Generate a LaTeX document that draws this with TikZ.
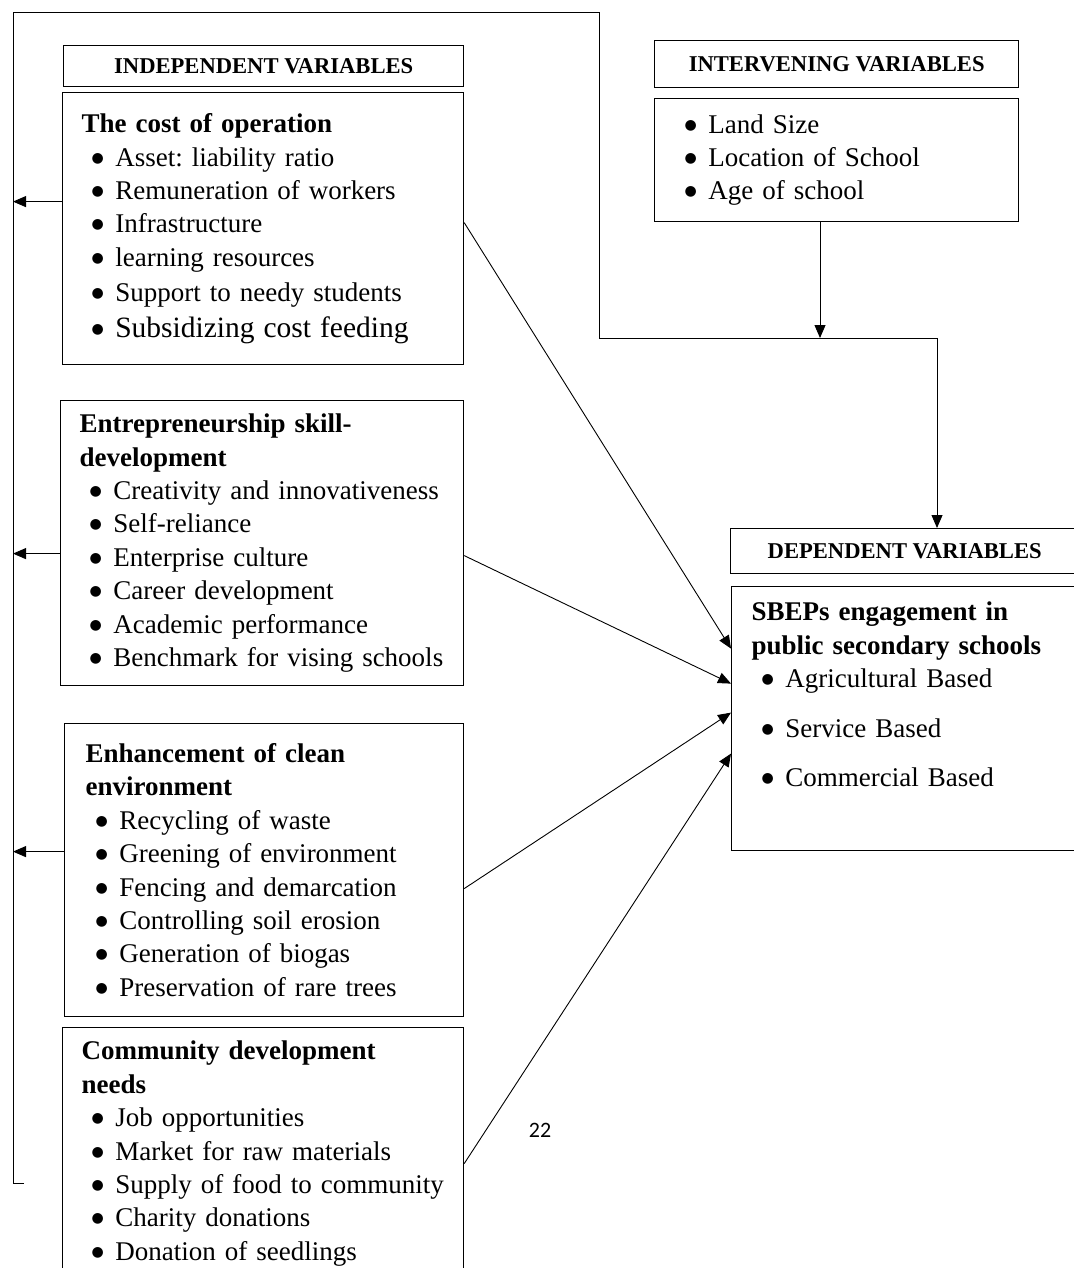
\documentclass[tikz,border=0pt]{standalone}
\usepackage{fontspec}
\setmainfont{Liberation Serif}
\newfontfamily\pagenumfont{Carlito}
\newfontfamily\bulletfont{DejaVu Sans}
\usetikzlibrary{arrows.meta}
\frenchspacing

% one bulleted line inside a box
\newcommand{\itm}[1]{\mbox{\hspace*{10pt}\raisebox{4pt}{\bulletfont\fontsize{14}{14}\selectfont ●}\hspace{11.5pt}#1}}

\begin{document}
\begin{tikzpicture}[
  x=1pt, y=-1pt, % one unit per pixel, y pointing down
  header/.style={
    draw, line width=1.4pt,
    anchor=north west,
    inner sep=0pt,
    font=\fontsize{22.6}{26}\selectfont\bfseries % title bars
  },
  varbox/.style={
    draw, line width=1.2pt,
    anchor=north west,
    inner xsep=19pt, inner ysep=0pt,
    align=left,
    font=\fontsize{27}{33.4}\selectfont % boxes with the variables
  },
  link/.style={line width=0.9pt},
  arrow/.style={link, -{Triangle[length=13pt,width=11pt]}} % connectors
]
\useasboundingbox (0,0) rectangle (1073,1268);

% independent variables
\node[header, minimum width=400pt, minimum height=41pt] (hindep) at (63,45) {INDEPENDENT VARIABLES};

\node[varbox, text width=363pt, minimum width=401pt, minimum height=272pt] (cost) at (62,92) {%
  \textbf{The cost of operation}\\
  \itm{Asset: liability ratio}\\
  \itm{Remuneration of workers}\\
  \itm{Infrastructure}\\
  \itm{learning resources}\\[2pt]
  \itm{Support to needy students}\\[2pt]
  {\fontsize{29.5}{33.4}\selectfont\itm{Subsidizing cost feeding}}};

\node[varbox, text width=365pt, minimum width=403pt, minimum height=285pt] (entre) at (60,400) {%
  \textbf{Entrepreneurship skill-}\\
  \textbf{development}\\
  \itm{Creativity and innovativeness}\\
  \itm{Self-reliance}\\
  \itm{Enterprise culture}\\
  \itm{Career development}\\
  \itm{Academic performance}\\
  \itm{Benchmark for vising schools}};

\node[varbox, inner xsep=21pt, text width=357pt, minimum width=399pt, minimum height=293pt] (enhance) at (64,723) {%
  \textbf{Enhancement of clean}\\
  \textbf{environment}\\
  \itm{Recycling of waste}\\
  \itm{Greening of environment}\\
  \itm{Fencing and demarcation}\\
  \itm{Controlling soil erosion}\\
  \itm{Generation of biogas}\\
  \itm{Preservation of rare trees}};

\node[varbox, text width=363pt, minimum width=401pt, minimum height=252pt] (community) at (62,1027) {%
  \textbf{Community development}\\
  \textbf{needs}\\
  \itm{Job opportunities}\\
  \itm{Market for raw materials}\\
  \itm{Supply of food to community}\\
  \itm{Charity donations}\\
  \itm{Donation of seedlings}};

% intervening variables
\node[header, minimum width=364pt, minimum height=47pt] (hinterv) at (654,40) {INTERVENING VARIABLES};

\node[varbox, inner xsep=20pt, text width=324pt, minimum width=364pt, minimum height=123pt] (interv) at (654,98) {%
  \itm{Land Size}\\
  \itm{Location of School}\\
  \itm{Age of school}};

% dependent variables
\node[header, minimum width=348pt, minimum height=45pt] (hdep) at (730,528) {DEPENDENT VARIABLES};

\node[varbox, inner xsep=20pt, text width=307pt, minimum width=347pt, minimum height=264pt] (sbeps) at (731,586) {%
  \textbf{SBEPs engagement in}\\
  \textbf{public secondary schools}\\
  \itm{Agricultural Based}\\[16pt]
  \itm{Service Based}\\[16pt]
  \itm{Commercial Based}\\[15pt]
  \mbox{}};

\node[font=\pagenumfont\fontsize{22}{26}\selectfont] (pagenum) at (540,1130) {22};

% feedback loop round the picture
\coordinate (loopend) at (24,1183);
\coordinate (loopleft) at (13,1183);
\coordinate (looptop) at (599,12);
\coordinate (loopjoin) at (937,338);
\coordinate (ivjoin) at (820,338);

\draw[link] (loopend) -- (loopleft) |- (looptop) |- (loopjoin);
\draw[arrow] (loopjoin) -- (loopjoin |- hdep.north);
\draw[arrow] (interv.south -| ivjoin) -- (ivjoin);

% arrows back to the loop
\path ([yshift=27pt]cost.west) coordinate (costback);
\path ([yshift=-10.5pt]entre.west) coordinate (entreback);
\path ([yshift=18.5pt]enhance.west) coordinate (enhanceback);
\draw[arrow] (costback) -- (costback -| loopleft);
\draw[arrow] (entreback) -- (entreback -| loopleft);
\draw[arrow] (enhanceback) -- (enhanceback -| loopleft);

% arrows into the dependent variables
\draw[arrow] ([yshift=6pt]cost.east) -- ([yshift=70pt]sbeps.west);
\draw[arrow] ([yshift=-12.5pt]entre.east) -- ([yshift=35pt]sbeps.west);
\draw[arrow] ([yshift=-18.5pt]enhance.east) -- ([yshift=6pt]sbeps.west);
\draw[arrow] ([yshift=-10pt]community.east) -- ([yshift=-35pt]sbeps.west);

\end{tikzpicture}
\end{document}
